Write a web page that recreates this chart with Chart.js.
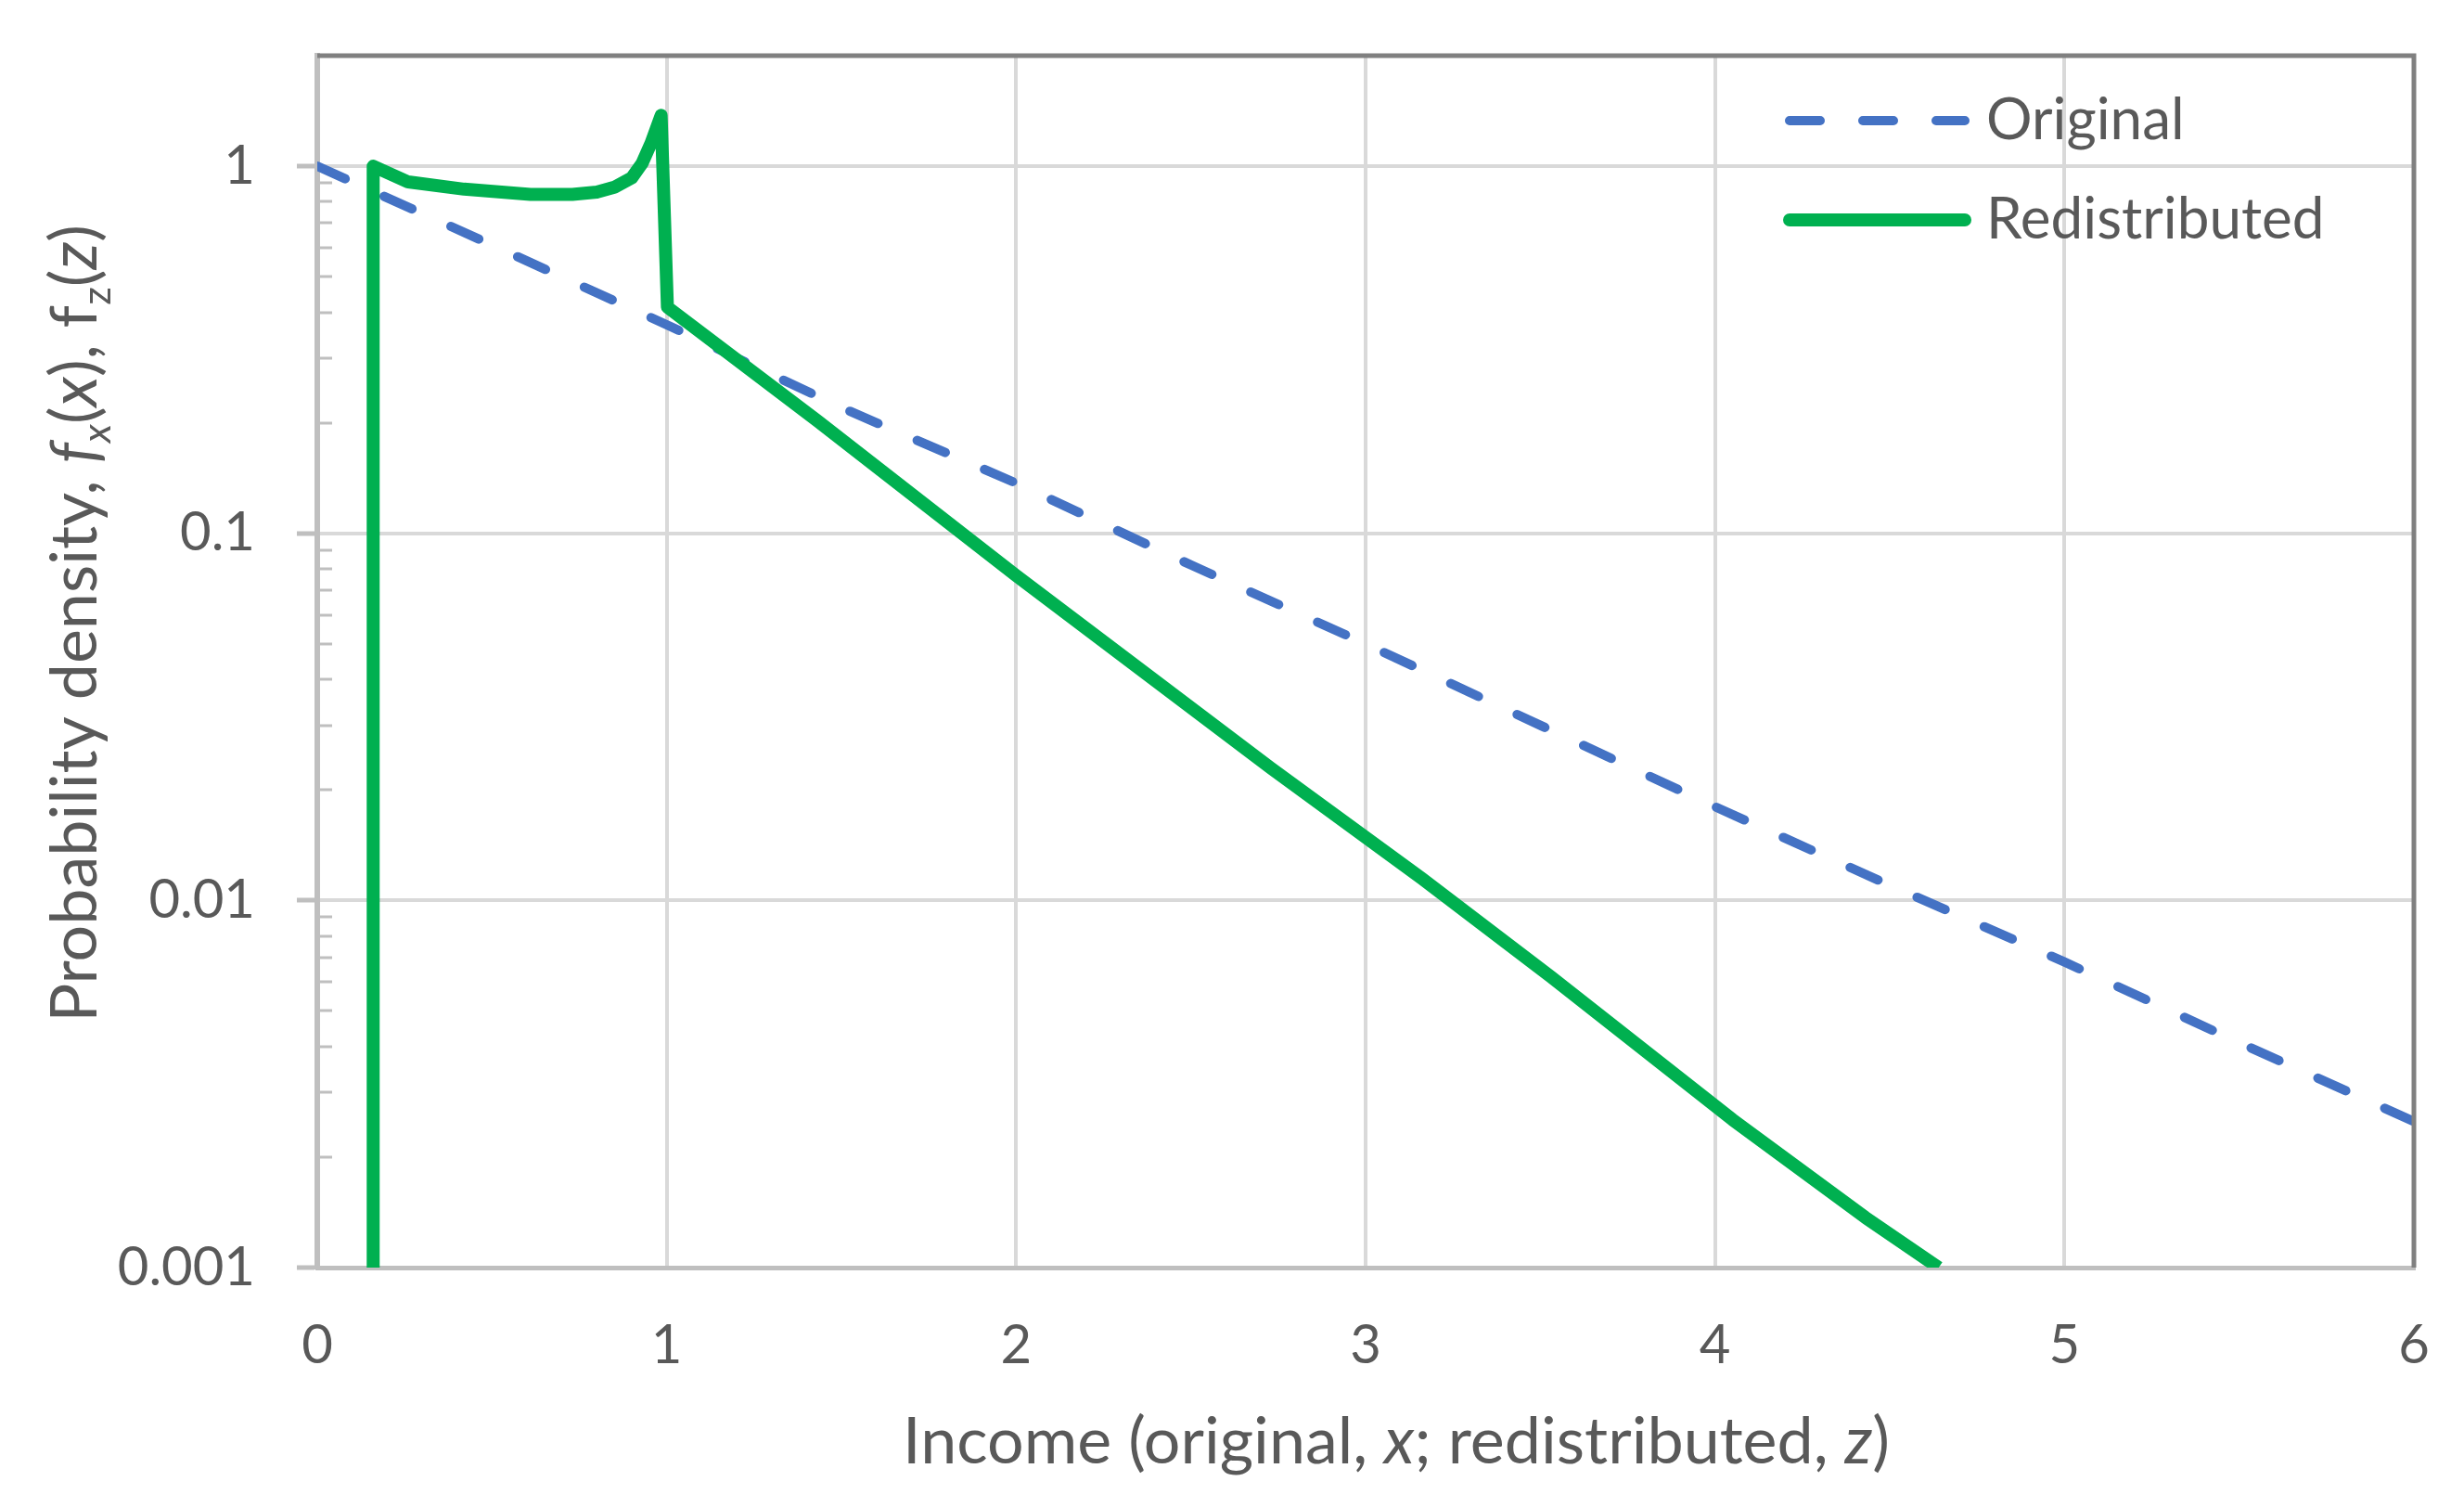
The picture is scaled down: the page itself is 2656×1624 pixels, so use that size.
<!DOCTYPE html>
<html>
<head>
<meta charset="utf-8">
<title>Probability density</title>
<script src="https://cdn.jsdelivr.net/npm/chart.js"></script>
<style>
  html, body { margin: 0; padding: 0; background: #fff; }
  canvas { display: block; }
</style>
</head>
<body>
<canvas id="grafico" width="2656" height="1624"></canvas>
<script>
// valores
const originalX = [0, 0.5, 1, 1.5, 2, 2.5, 3, 3.5, 4, 4.5, 5, 5.5, 6];
const originalY = [1, 0.61, 0.37, 0.22, 0.137, 0.082, 0.05, 0.03, 0.018, 0.011, 0.0068, 0.0041, 0.0025];

const redistX = [0.16, 0.16, 0.26, 0.42, 0.61, 0.73, 0.80, 0.85, 0.90, 0.93, 0.955, 0.984, 1.002, 1.43, 2.0, 2.73, 3.16, 3.53, 4.05, 4.43, 4.64];
const redistY = [0.001, 1.0, 0.906, 0.866, 0.838, 0.838, 0.85, 0.876, 0.93, 1.02, 1.155, 1.375, 0.413, 0.203, 0.0767, 0.0229, 0.0115, 0.0062, 0.00253, 0.00137, 0.001];

const seriesNames = ['Original', 'Redistributed'];

const xTicks = [0, 1, 2, 3, 4, 5, 6];
const yDecades = [0.001, 0.01, 0.1, 1];
const yMinorSteps = [2, 3, 4, 5, 6, 7, 8, 9];
const yMax = 2;

const textColor = '#595959';
const fontFamily = 'Lato, "Open Sans", sans-serif';

function isDecade(v) {
  const l = Math.log10(v);
  return Math.abs(l - Math.round(l)) < 1e-9;
}

function toPoints(xs, ys) {
  return xs.map((x, i) => ({ x: x, y: ys[i] }));
}

// lista de ticks do eixo y (décadas + intermediários)
const yTickValues = [];
yDecades.forEach(d => {
  yTickValues.push(d);
  if (d < 1) yMinorSteps.forEach(m => yTickValues.push(+(d * m).toPrecision(3)));
});
yTickValues.push(yMax);

// desenha texto com partes em itálico / subscrito
function drawRuns(ctx, runs, cx, cy, size) {
  const fontOf = r => (r.italic ? 'italic ' : '') + (r.sub ? size * 0.62 : size) + 'px ' + fontFamily;
  let total = 0;
  runs.forEach(r => { ctx.font = fontOf(r); total += ctx.measureText(r.t).width; });
  let x = cx - total / 2;
  runs.forEach(r => {
    ctx.font = fontOf(r);
    ctx.fillText(r.t, x, cy + (r.sub ? size * 0.22 : 0));
    x += ctx.measureText(r.t).width;
  });
}

const extras = {
  id: 'extras',
  afterDraw(chart) {
    const { ctx, chartArea: a, scales: { y } } = chart;
    ctx.save();

    // ticks menores para dentro
    ctx.strokeStyle = '#bfbfbf';
    ctx.lineWidth = 3;
    y.ticks.forEach(t => {
      if (isDecade(t.value) || t.value >= yMax) return;
      const py = Math.round(y.getPixelForValue(t.value));
      ctx.beginPath();
      ctx.moveTo(a.left, py);
      ctx.lineTo(a.left + 16, py);
      ctx.stroke();
    });

    // borda superior e direita
    ctx.strokeStyle = '#808080';
    ctx.lineWidth = 5;
    ctx.beginPath();
    ctx.moveTo(a.left, a.top);
    ctx.lineTo(a.right, a.top);
    ctx.lineTo(a.right, a.bottom);
    ctx.stroke();

    // legenda
    ctx.textBaseline = 'middle';
    ctx.textAlign = 'left';
    ctx.fillStyle = textColor;
    ctx.font = '62px ' + fontFamily;
    const rows = [130, 237];
    chart.data.datasets.forEach((ds, i) => {
      const ly = rows[i];
      ctx.strokeStyle = ds.borderColor;
      ctx.lineWidth = ds.borderWidth;
      ctx.lineCap = 'round';
      ctx.setLineDash(ds.borderDash || []);
      ctx.beginPath();
      ctx.moveTo(1929, ly);
      ctx.lineTo(2118, ly);
      ctx.stroke();
      ctx.setLineDash([]);
      ctx.fillText(ds.label, 2141, ly);
    });

    // títulos dos eixos
    ctx.textBaseline = 'alphabetic';
    drawRuns(ctx, [
      { t: 'Income (original, ' },
      { t: 'x', italic: true },
      { t: '; redistributed, ' },
      { t: 'z', italic: true },
      { t: ')' }
    ], 1505, 1577, 70);

    ctx.translate(104, 672);
    ctx.rotate(-Math.PI / 2);
    drawRuns(ctx, [
      { t: 'Probability density, ' },
      { t: 'f', italic: true },
      { t: 'x', italic: true, sub: true },
      { t: '(' },
      { t: 'x', italic: true },
      { t: '), f' },
      { t: 'z', sub: true },
      { t: '(' },
      { t: 'z', italic: true },
      { t: ')' }
    ], 0, 0, 70);

    ctx.restore();
  }
};

new Chart(document.getElementById('grafico'), {
  type: 'scatter',
  data: {
    datasets: [
      {
        label: seriesNames[0],
        data: toPoints(originalX, originalY),
        showLine: true,
        borderColor: '#4472C4',
        backgroundColor: '#4472C4',
        borderWidth: 10,
        borderDash: [33, 46],
        borderCapStyle: 'round',
        pointRadius: 0,
        order: 1
      },
      {
        label: seriesNames[1],
        data: toPoints(redistX, redistY),
        showLine: true,
        borderColor: '#00B050',
        backgroundColor: '#00B050',
        borderWidth: 14,
        borderJoinStyle: 'round',
        pointRadius: 0,
        order: 0
      }
    ]
  },
  options: {
    responsive: false,
    animation: false,
    devicePixelRatio: 1,
    layout: { padding: { top: 60, right: 54, left: 0, bottom: 0 } },
    plugins: {
      legend: { display: false },
      tooltip: { enabled: false }
    },
    scales: {
      x: {
        type: 'linear',
        min: 0,
        max: 6,
        afterFit: s => { s.height = 1624 - 1366; s.paddingLeft = 0; s.paddingRight = 0; },
        afterBuildTicks: s => { s.ticks = xTicks.map(v => ({ value: v })); },
        ticks: {
          color: textColor,
          font: { family: fontFamily, size: 58 },
          padding: 49,
          maxRotation: 0
        },
        grid: { color: '#d9d9d9', lineWidth: 4, drawTicks: false },
        border: { color: '#bfbfbf', width: 5 }
      },
      y: {
        type: 'logarithmic',
        min: 0.001,
        max: yMax,
        afterFit: s => { s.width = 342; s.paddingTop = 0; s.paddingBottom = 0; },
        afterBuildTicks: s => { s.ticks = yTickValues.map(v => ({ value: v })); },
        ticks: {
          color: textColor,
          font: { family: fontFamily, size: 58 },
          padding: 45,
          autoSkip: false,
          callback: v => isDecade(v) ? String(v) : ''
        },
        grid: {
          color: c => isDecade(c.tick.value) ? '#d9d9d9' : 'rgba(0,0,0,0)',
          tickColor: c => isDecade(c.tick.value) ? '#bfbfbf' : 'rgba(0,0,0,0)',
          lineWidth: 4,
          tickLength: 22,
          tickWidth: 5
        },
        border: { color: '#bfbfbf', width: 6 }
      }
    }
  },
  plugins: [extras]
});
</script>
</body>
</html>
